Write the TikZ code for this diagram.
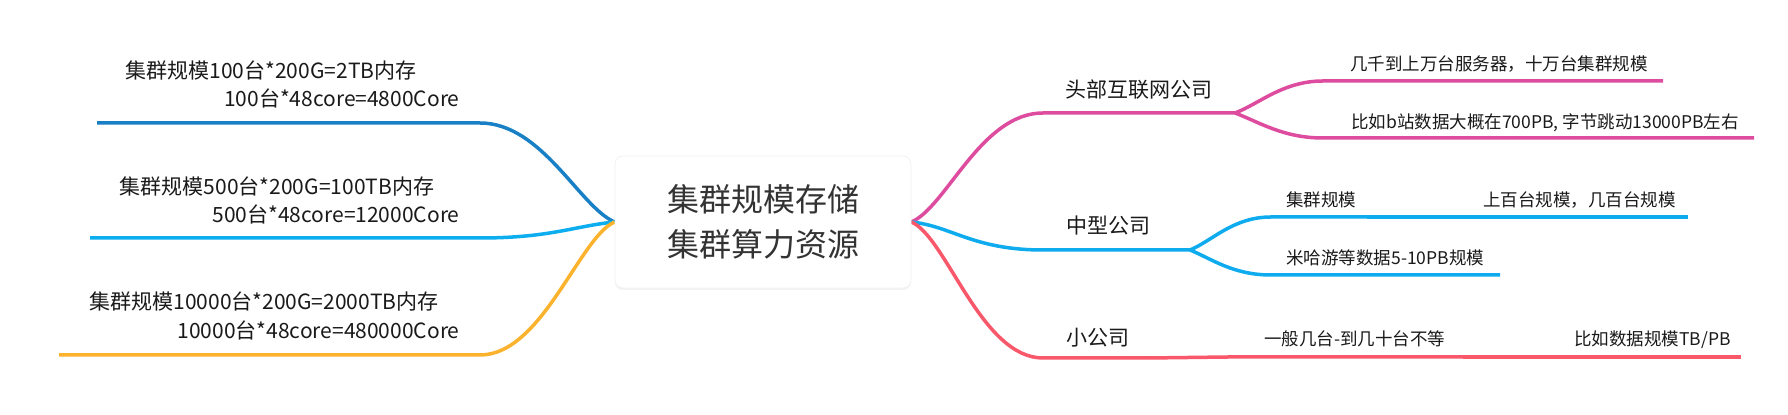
\documentclass[tikz,border=0pt]{standalone}
\usepackage{fontspec}
\setmainfont{Noto Sans CJK SC}
\usetikzlibrary{calc,shadows}
\definecolor{cblueA}{HTML}{1A80C6}
\definecolor{cblueB}{HTML}{0DAEF0}
\definecolor{corange}{HTML}{FBB32E}
\definecolor{cpink}{HTML}{DD4C9E}
\definecolor{cblueC}{HTML}{0EABEE}
\definecolor{cred}{HTML}{F9576A}
\definecolor{ctext}{HTML}{1A1A1A}
\definecolor{croot}{HTML}{333333}
\pgfdeclarelayer{bg}
\pgfsetlayers{bg,main}
\begin{document}
\begin{tikzpicture}[x=0.5pt,y=-0.5pt,
  lvtwo/.style={font=\fontsize{10.5pt}{12pt}\selectfont, inner sep=0pt, text height=7.8pt, text depth=0pt, text=ctext},
  lvthree/.style={font=\fontsize{8.75pt}{10pt}\selectfont, inner sep=0pt, text height=6.5pt, text depth=0pt, text=ctext},
  branch/.style={line width=1.75pt, line cap=butt},
  rootbox/.style={draw=black!5, fill=white, rounded corners=4pt, minimum width=148pt, minimum height=66pt,
    align=center, text=croot, font=\fontsize{16pt}{22.5pt}\selectfont, inner sep=0pt,
    drop shadow={shadow xshift=0pt, shadow yshift=-1pt, opacity=0.10}}
]
\useasboundingbox (0,0) rectangle (1788,415);

% root
\node[rootbox] (root) at (763,222) {集群规模存储\\集群算力资源};

% left texts
\node[lvtwo, anchor=center] (t1) at (271,71) {集群规模100台*200G=2TB内存};
\node[lvtwo, anchor=east] (t2) at (460,99) {100台*48core=4800Core};
\node[lvtwo, anchor=center] (t3) at (277,187) {集群规模500台*200G=100TB内存};
\node[lvtwo, anchor=east] (t4) at (460,215) {500台*48core=12000Core};
\node[lvtwo, anchor=center] (t5) at (264,302) {集群规模10000台*200G=2000TB内存};
\node[lvtwo, anchor=east] (t6) at (460,331) {10000台*48core=480000Core};

% right texts
\node[lvtwo, anchor=west] (n1) at (1065,90) {头部互联网公司};
\node[lvthree, anchor=west] (n11) at (1350,64) {几千到上万台服务器，十万台集群规模};
\node[lvthree, anchor=west] (n12) at (1351,122) {比如b站数据大概在700PB, 字节跳动13000PB左右};
\node[lvtwo, anchor=west] (n2) at (1066,226) {中型公司};
\node[lvthree, anchor=west] (n21) at (1286,200) {集群规模};
\node[lvthree, anchor=west] (n211) at (1483,200) {上百台规模，几百台规模};
\node[lvthree, anchor=west] (n22) at (1286,258) {米哈游等数据5-10PB规模};
\node[lvtwo, anchor=west] (n3) at (1066,338) {小公司};
\node[lvthree, anchor=west] (n31) at (1264,339) {一般几台-到几十台不等};
\node[lvthree, anchor=west] (n311) at (1574,339) {比如数据规模TB/PB};

% line coordinates
\coordinate (c1) at (480,123); \coordinate (e1) at (97,123);
\coordinate (c2) at (480,238); \coordinate (e2) at (90,238);
\coordinate (c3) at (480,355); \coordinate (e3) at (59,355);
\coordinate (p0) at (1043,113); \coordinate (pj) at (1235,113);
\coordinate (pu) at (1323,81); \coordinate (pue) at (1663,81);
\coordinate (pd) at (1323,138); \coordinate (pde) at (1754,138);
\coordinate (b0) at (1043,250); \coordinate (bj) at (1190,250);
\coordinate (bu) at (1271,217); \coordinate (bt) at (1367,217); \coordinate (bue) at (1688,217);
\coordinate (bd) at (1271,275); \coordinate (bde) at (1500,275);
\coordinate (r0) at (1043,358); \coordinate (rj) at (1148,358);
\coordinate (rs) at (1228,357); \coordinate (rt) at (1463,357); \coordinate (rte) at (1741,357);

\begin{pgfonlayer}{bg}
\fill[white] (0,0) rectangle (1788,415);
\draw[branch, cblueA] (root.west) .. controls +(-35,-15) and +(62,0) .. (c1) -- (e1);
\draw[branch, cblueB] (root.west) .. controls +(-40,4) and +(70,0) .. (c2) -- (e2);
\draw[branch, corange] (root.west) .. controls +(-35,15) and +(62,0) .. (c3) -- (e3);
\draw[branch, cpink] (root.east) .. controls +(35,-15) and +(-62,0) .. (p0) -- (pj);
\draw[branch, cpink] (pj) .. controls +(24,-9) and +(-40,0) .. (pu) -- (pue);
\draw[branch, cpink] (pj) .. controls +(24,9) and +(-40,0) .. (pd) -- (pde);
\draw[branch, cblueC] (root.east) .. controls +(40,4) and +(-70,0) .. (b0) -- (bj);
\draw[branch, cblueC] (bj) .. controls +(22,-9) and +(-38,0) .. (bu) -- (bt);
\draw[branch, cblueC] (bt) -- (bue);
\draw[branch, cblueC] (bj) .. controls +(22,9) and +(-38,0) .. (bd) -- (bde);
\draw[branch, cred] (root.east) .. controls +(35,15) and +(-62,0) .. (r0) -- (rj);
\draw[branch, cred] (rj) .. controls +(40,0) and +(-40,0) .. (rs) -- (rt);
\draw[branch, cred] (rt) -- (rte);
\end{pgfonlayer}
\end{tikzpicture}
\end{document}
